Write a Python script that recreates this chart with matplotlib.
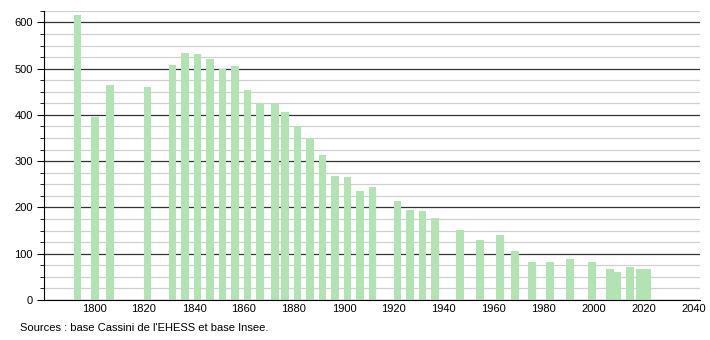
import matplotlib
matplotlib.use("Agg")
import matplotlib.pyplot as plt
from matplotlib.ticker import MultipleLocator

# census years and population
years = [1793, 1800, 1806, 1821, 1831, 1836, 1841, 1846, 1851, 1856,
         1861, 1866, 1872, 1876, 1881, 1886, 1891, 1896, 1901, 1906,
         1911, 1921, 1926, 1931, 1936, 1946, 1954, 1962, 1968, 1975,
         1982, 1990, 1999, 2006, 2009, 2014, 2018, 2021]
population = [616, 395, 465, 460, 508, 534, 532, 521, 500, 505,
              454, 425, 424, 406, 376, 351, 313, 269, 266, 236,
              244, 215, 195, 193, 177, 152, 130, 141, 105, 83,
              83, 88, 83, 66, 61, 72, 66, 66]
xtick_years = list(range(1800, 2041, 20))
source = "Sources : base Cassini de l'EHESS et base Insee."

plt.rcParams['font.family'] = ['Liberation Sans', 'DejaVu Sans']

fig = plt.figure(figsize=(7.1, 3.4), dpi=100)
ax = fig.add_axes([0.062, 0.1176, 0.924, 0.8506])

ax.bar([y + 0.4 for y in years], population, width=3.1, color='#b2e3b2', zorder=3)

ax.set_xlim(1780, 2042.5)
ax.set_ylim(0, 625)
ax.set_xticks(xtick_years)
ax.yaxis.set_major_locator(MultipleLocator(100))
ax.yaxis.set_minor_locator(MultipleLocator(25))

ax.grid(axis='y', which='major', color='#333333', linewidth=0.9, zorder=1)
ax.grid(axis='y', which='minor', color='#d0d0d0', linewidth=0.9, zorder=1)

for s in ['top', 'right']:
    ax.spines[s].set_visible(False)
ax.spines['left'].set_color('black')
ax.spines['bottom'].set_color('black')
ax.spines['bottom'].set_zorder(4)

ax.tick_params(axis='x', length=0, labelsize=8, pad=3)
ax.tick_params(axis='y', which='major', length=5, labelsize=8, pad=3)
ax.tick_params(axis='y', which='minor', length=3)

fig.text(0.028, 0.035, source, fontsize=8, ha='left', va='center')

fig.savefig('out.png', dpi=100)
